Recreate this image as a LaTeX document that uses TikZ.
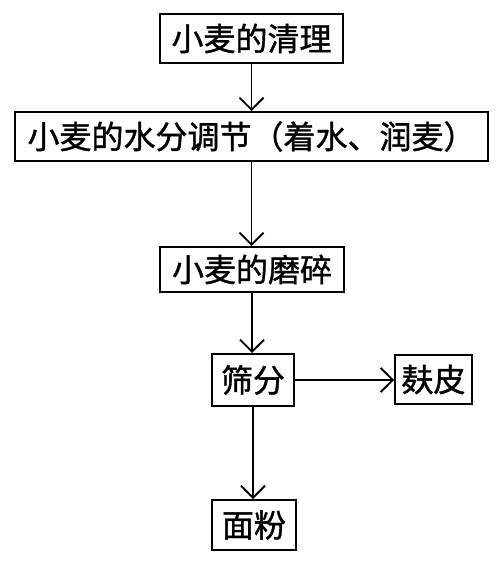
\documentclass[tikz,border=0pt]{standalone}
\usepackage{fontspec}
\setmainfont{Noto Sans CJK SC}[FakeBold=1.2]
\usetikzlibrary{arrows.meta}
\begin{document}
\begin{tikzpicture}[x=1pt,y=-1pt,
  box/.style={draw, line width=2pt, inner sep=0pt, font=\fontsize{32}{32}\selectfont},
  arr/.style={line width=1.8pt, -{Straight Barb[length=12pt,width=24pt,line width=1.8pt]}}]
\useasboundingbox (0,0) rectangle (500,567);
\node[box, minimum width=183pt, minimum height=49pt] (a) at (251.5,38.5) {小麦的清理};
\node[box, minimum width=473pt, minimum height=49pt] (b) at (251.5,136.5) {小麦的水分调节（着水、润麦）};
\node[box, minimum width=184pt, minimum height=45pt] (c) at (252,269.5) {小麦的磨碎};
\node[box, minimum width=82pt, minimum height=52pt] (d) at (253,380) {筛分};
\node[box, minimum width=77pt, minimum height=49pt] (e) at (433.5,379.5) {麸皮};
\node[box, minimum width=84pt, minimum height=50pt] (f) at (254,525) {面粉};
\draw[arr] (a.south) -- (a.south |- b.north);
\draw[arr] (b.south) -- (b.south |- c.north);
\draw[arr] (c.south) -- (c.south |- d.north);
\draw[arr] (d.east) -- (d.east -| e.west);
\draw[arr] (d.south) -- (d.south |- f.north);
\end{tikzpicture}
\end{document}
